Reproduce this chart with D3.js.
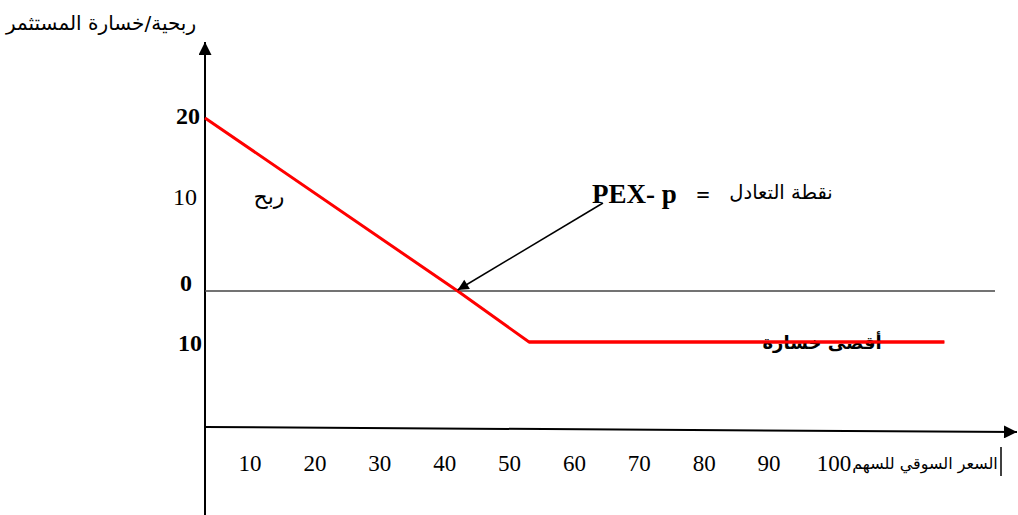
<!DOCTYPE html>
<html><head><meta charset="utf-8">
<script src="https://cdn.jsdelivr.net/npm/d3@7"></script>
<style>html,body{margin:0;padding:0;background:#fff}</style>
</head><body>
<svg id="c" width="1018" height="515"></svg>
<script>
// data
const xTicks = [10, 20, 30, 40, 50, 60, 70, 80, 90, 100];
const yTickValues = [20, 10, 0, -10];
const yTickLabels = ["20", "10", "0", "10"];
const yTickBold = [true, false, true, true];
const payoffPrice = [0, 42, 53, 117];
const payoffValue = [20, 0, -10, -10];
const breakeven = {price: 42, value: 0};
const yTitle = "ربحية/خسارة المستثمر";
const xTitle = "السعر السوقي للسهم";
const profitLabel = "ربح";
const lossLabel = "أقصى خسارة";
const bePrefix = "PEX- p";
const beEq = "=";
const beLabel = "نقطة التعادل";

const svg = d3.select("#c");
const x = d3.scaleLinear().domain([0, 10, 100]).range([205, 250, 834]);
const y = d3.scaleLinear().domain([-10, 0, 20]).range([342, 291, 118]);
const serif = "'Liberation Serif','Times New Roman',serif";
const arab = "'DejaVu Sans','Noto Sans',sans-serif";

const defs = svg.append("defs");
defs.append("marker").attr("id","ah").attr("viewBox","0 0 10 10").attr("refX",10).attr("refY",5)
  .attr("markerWidth",14).attr("markerHeight",11).attr("markerUnits","userSpaceOnUse").attr("orient","auto")
  .append("path").attr("d","M0,0L10,5L0,10Z").attr("fill","#000");
defs.append("marker").attr("id","ah2").attr("viewBox","0 0 10 10").attr("refX",10).attr("refY",5)
  .attr("markerWidth",16).attr("markerHeight",13).attr("markerUnits","userSpaceOnUse").attr("orient","auto")
  .append("path").attr("d","M0,0L10,5L0,10Z").attr("fill","#000");

// y axis
svg.append("line").attr("x1", x(0)).attr("x2", x(0)).attr("y1", 515).attr("y2", 42)
  .attr("stroke","#000").attr("stroke-width",2).attr("marker-end","url(#ah2)");
// x axis
svg.append("line").attr("x1", x(0)).attr("y1", 427).attr("x2", 1017).attr("y2", 432)
  .attr("stroke","#000").attr("stroke-width",2).attr("marker-end","url(#ah2)");
// zero line
svg.append("line").attr("x1", x(0)).attr("x2", 995).attr("y1", y(0)).attr("y2", y(0))
  .attr("stroke","#444").attr("stroke-width",1.6);

// payoff line
const pts = payoffPrice.map((p,i)=>[x(p), y(payoffValue[i])]);
svg.append("path").attr("d", d3.line()(pts)).attr("fill","none")
  .attr("stroke","#ff0000").attr("stroke-width",3);

// x tick labels
svg.append("g").selectAll("text").data(xTicks).join("text")
  .attr("x", d=>x(d)).attr("y", 471).attr("text-anchor","middle")
  .attr("font-family", serif).attr("font-size", 23).attr("fill","#000").text(d=>d);

// x title
svg.append("text").attr("x", 925).attr("y", 469).attr("text-anchor","middle")
  .attr("font-family", arab).attr("font-size", 16).attr("fill","#000").text(xTitle);
svg.append("line").attr("x1",1001).attr("x2",1001).attr("y1",447).attr("y2",476)
  .attr("stroke","#000").attr("stroke-width",1.5);

// y tick labels
const yOff = [6, 0, 0, 9];
const xRight = [200, 197, 192, 202];
svg.append("g").selectAll("text").data(yTickValues).join("text")
  .attr("x", (d,i)=>xRight[i]).attr("y", (d,i)=>y(d) + yOff[i]).attr("text-anchor","end")
  .attr("font-family", serif).attr("font-size", 24)
  .attr("font-weight", (d,i)=>yTickBold[i] ? "bold" : "normal")
  .attr("fill","#000").text((d,i)=>yTickLabels[i]);

// y title
svg.append("text").attr("x", 101).attr("y", 30).attr("text-anchor","middle")
  .attr("font-family", arab).attr("font-size", 20).attr("fill","#000").text(yTitle);

// annotations
svg.append("text").attr("x", 269).attr("y", 204).attr("text-anchor","middle")
  .attr("font-family", arab).attr("font-size", 22).attr("fill","#000").text(profitLabel);
svg.append("text").attr("x", 592).attr("y", 203).attr("text-anchor","start")
  .attr("font-family", serif).attr("font-size", 27).attr("font-weight","bold")
  .attr("fill","#000").text(bePrefix);
svg.append("text").attr("x", 703).attr("y", 203).attr("text-anchor","middle")
  .attr("font-family", serif).attr("font-size", 24).attr("font-weight","bold")
  .attr("fill","#000").text(beEq);
svg.append("text").attr("x", 781).attr("y", 199).attr("text-anchor","middle")
  .attr("font-family", arab).attr("font-size", 19.5).attr("fill","#000").text(beLabel);
svg.append("text").attr("x", 822).attr("y", 349).attr("text-anchor","middle")
  .attr("font-family", arab).attr("font-size", 18).attr("font-weight","bold").attr("fill","#000").text(lossLabel);

// red line over loss label (as in reference)
svg.append("path").attr("d", d3.line()(pts.slice(2))).attr("fill","none")
  .attr("stroke","#ff0000").attr("stroke-width",3);

// arrow to breakeven
svg.append("line").attr("x1", 603).attr("y1", 203)
  .attr("x2", x(breakeven.price)).attr("y2", y(breakeven.value) - 1)
  .attr("stroke","#000").attr("stroke-width",1.5).attr("marker-end","url(#ah)");
</script>
</body></html>
